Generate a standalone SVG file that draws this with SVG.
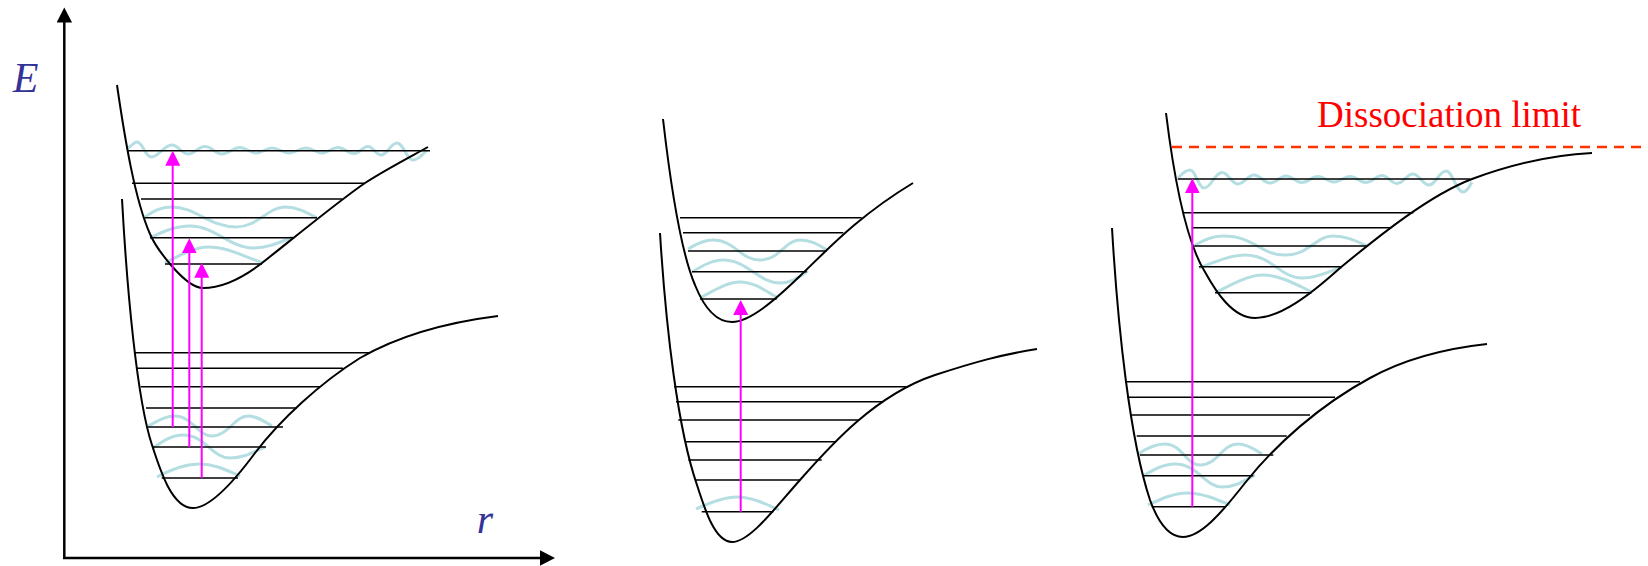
<svg xmlns="http://www.w3.org/2000/svg" width="1648" height="566" viewBox="0 0 1648 566">
<style>
.curve{fill:none;stroke:#000;stroke-width:2;stroke-linejoin:round}
.lvl{stroke:#000;stroke-width:1.5}
.wave{fill:none;stroke:#B4DEE2;stroke-width:3}
.tr{stroke:#FF00FF;stroke-width:2;marker-end:url(#ah)}
.axis{stroke:#000;stroke-width:2.5;marker-end:url(#axh)}
.lbl{font-family:"Liberation Serif","Times New Roman",serif;font-style:italic;font-size:42px;fill:#333399}
.dis{font-family:"Liberation Serif","Times New Roman",serif;font-size:37px;fill:#FF0000}
</style>
<defs>
<marker id="ah" markerUnits="userSpaceOnUse" markerWidth="15" markerHeight="15" viewBox="0 0 15 15" refX="1" refY="7.5" orient="auto"><path d="M0,0 L15,7.5 L0,15 z" fill="#FF00FF"/></marker>
<marker id="axh" markerUnits="userSpaceOnUse" markerWidth="16" markerHeight="16" viewBox="0 0 16 16" refX="1" refY="7.75" orient="auto"><path d="M0,0 L15,7.75 L0,15.5 z" fill="#000"/></marker>
</defs>
<rect width="1648" height="566" fill="#fff"/>

<g id="axes">
<line class="axis" x1="64.3" y1="558" x2="64.3" y2="21.5"/>
<line class="axis" x1="63" y1="558" x2="541" y2="558"/>
<text class="lbl" x="12.7" y="92">E</text>
<text class="lbl" x="476.7" y="532.7">r</text>
</g>

<g id="panel1">
<g id="p1-waves">
<path class="wave" d="M128,148 C131.6,146 134,142 137,142 C142.6,142 145.4,157 151,157 C159.4,157 163.6,145 172,145 C178.4,145 181.6,154 188,154 C194.8,154 198.2,146.5 205,146.5 C211.8,146.5 215.2,154 222,154 C229.2,154 232.8,147.5 240,147.5 C246.4,147.5 249.6,153 256,153 C262.4,153 265.6,148 272,148 C278.8,148 282.2,153 289,153 C295.8,153 299.2,148 306,148 C312.4,148 315.6,153 322,153 C328.4,153 331.6,147.5 338,147.5 C344.4,147.5 347.6,153.5 354,153.5 C359.6,153.5 362.4,146.5 368,146.5 C373.2,146.5 375.8,155 381,155 C387.4,155 390.6,143 397,143 C403.4,143 406.6,160 413,160 C418.6,160 423,154 427,150"/>
<path class="wave" d="M145,217 C155,210 162,207 172,207 C195,207 210,227 236,227 C258,227 268,207 285,207 C298,207 308,213 317,218"/>
<path class="wave" d="M150,238 C162,232 175,226 190,226 C215,226 230,248 253,248 C270,248 282,241 293,237"/>
<path class="wave" d="M165,263 C180,255 195,247 208,247 C228,247 245,257 263,263"/>
<path class="wave" d="M148,426 C158,421 165,416 175,416 C192,416 198,436 212,436 C228,436 235,416 248,416 C258,416 265,422 272,426"/>
<path class="wave" d="M153,448 C163,441 172,435 183,435 C205,435 212,458 230,458 C245,458 255,451 265,447"/>
<path class="wave" d="M157,477 C170,470 185,464 200,464 C215,464 228,471 240,476"/>
</g>
<g id="p1-levels">
<line class="lvl" x1="128" y1="150.7" x2="430" y2="150.7"/>
<line class="lvl" x1="132" y1="183.3" x2="365" y2="183.3"/>
<line class="lvl" x1="141" y1="199" x2="342" y2="199"/>
<line class="lvl" x1="145" y1="217.7" x2="317" y2="217.7"/>
<line class="lvl" x1="150" y1="237.7" x2="293" y2="237.7"/>
<line class="lvl" x1="165" y1="264" x2="262" y2="264"/>
<line class="lvl" x1="135" y1="352.7" x2="370" y2="352.7"/>
<line class="lvl" x1="137" y1="368.3" x2="343" y2="368.3"/>
<line class="lvl" x1="140.7" y1="386.7" x2="320" y2="386.7"/>
<line class="lvl" x1="146" y1="408" x2="297" y2="408"/>
<line class="lvl" x1="148" y1="427" x2="283" y2="427"/>
<line class="lvl" x1="152.7" y1="447" x2="266" y2="447"/>
<line class="lvl" x1="161.7" y1="478" x2="238" y2="478"/>
</g>
<path class="curve" d="M117,85 C125,140 135,200 150,234 C156,248 185,288 203,288 C225,288 245,276 262,263 C290,241 340,200 365,183 C385,170 410,157 428,147"/>
<path class="curve" d="M122,199 C127,290 137,400 152,445 C160,470 172,508 193,508 C210,508 235,480 255,453 C280,420 320,383 360,358 C400,335 450,322 498,316"/>
</g>

<g id="panel2">
<g id="p2-waves">
<path class="wave" d="M688,249 C696,244 704,240 713,240 C735,240 740,260 760,260 C780,260 785,240 800,240 C812,240 820,246 827,250"/>
<path class="wave" d="M692,272 C702,266 712,260 723,260 C748,260 758,283 780,283 C792,283 800,276 808,271"/>
<path class="wave" d="M700,298 C713,291 727,282 740,282 C755,282 767,292 778,298"/>
<path class="wave" d="M696,509 C709,503 723,497 737,497 C752,497 766,504 779,510"/>
</g>
<g id="p2-levels">
<line class="lvl" x1="680" y1="217.7" x2="861.7" y2="217.7"/>
<line class="lvl" x1="683" y1="232.7" x2="843.3" y2="232.7"/>
<line class="lvl" x1="688" y1="251" x2="826.7" y2="251"/>
<line class="lvl" x1="692" y1="271.7" x2="806.7" y2="271.7"/>
<line class="lvl" x1="700" y1="299" x2="776.7" y2="299"/>
<line class="lvl" x1="674" y1="386.7" x2="908.3" y2="386.7"/>
<line class="lvl" x1="676" y1="401.7" x2="883.3" y2="401.7"/>
<line class="lvl" x1="678.3" y1="420" x2="858.3" y2="420"/>
<line class="lvl" x1="685" y1="441.7" x2="835" y2="441.7"/>
<line class="lvl" x1="688.3" y1="460" x2="821.7" y2="460"/>
<line class="lvl" x1="695" y1="480" x2="800" y2="480"/>
<line class="lvl" x1="701.7" y1="511.7" x2="773.3" y2="511.7"/>
</g>
<path class="curve" d="M663,119 C670,180 680,250 695,285 C703,305 715,322 732,322 C750,322 775,300 800,276 C830,247 860,215 913,183"/>
<path class="curve" d="M660,233 C666,330 678,430 697,485 C705,510 715,542 732,542 C750,542 775,508 800,480 C830,446 875,395 935,375 C975,362 1000,355 1037,349"/>
</g>

<g id="panel3">
<g id="p3-waves">
<path class="wave" d="M1178,178 C1182,174 1185,170 1190,170 C1195.6,170 1198.4,188 1204,188 C1211.2,188 1214.8,172.5 1222,172.5 C1228.4,172.5 1231.6,184 1238,184 C1244.4,184 1247.6,175 1254,175 C1260.4,175 1263.6,183 1270,183 C1276.4,183 1279.6,176 1286,176 C1292.4,176 1295.6,182.5 1302,182.5 C1308.4,182.5 1311.6,176.5 1318,176.5 C1324.4,176.5 1327.6,182 1334,182 C1340.4,182 1343.6,176.5 1350,176.5 C1356.4,176.5 1359.6,182.5 1366,182.5 C1372.4,182.5 1375.6,175.5 1382,175.5 C1388,175.5 1391,183.5 1397,183.5 C1403.4,183.5 1406.6,174 1413,174 C1419.4,174 1422.6,185 1429,185 C1435.8,185 1439.2,171 1446,171 C1452.8,171 1456.2,192 1463,192 C1467,192 1470,186 1472,182"/>
<path class="wave" d="M1194,246 C1203,240 1212,236 1223,236 C1255,236 1260,255 1285,255 C1310,255 1315,236 1333,236 C1348,236 1358,242 1367,246"/>
<path class="wave" d="M1199,268 C1215,262 1230,255 1245,255 C1272,255 1280,278 1302,278 C1318,278 1330,271 1342,267"/>
<path class="wave" d="M1215,293 C1230,285 1248,275 1263,275 C1280,275 1297,285 1312,292"/>
<path class="wave" d="M1138,454 C1147,448 1155,444 1165,444 C1182,444 1186,465 1200,465 C1218,465 1222,444 1238,444 C1248,444 1255,450 1262,454"/>
<path class="wave" d="M1143,476 C1153,470 1163,464 1175,464 C1198,464 1205,487 1222,487 C1237,487 1247,479 1255,475"/>
<path class="wave" d="M1148,505 C1161,499 1174,493 1187,493 C1202,493 1216,499 1230,505"/>
</g>
<g id="p3-levels">
<line class="lvl" x1="1177.7" y1="179" x2="1470" y2="179"/>
<line class="lvl" x1="1182.7" y1="212.7" x2="1413.3" y2="212.7"/>
<line class="lvl" x1="1191.7" y1="227.7" x2="1390" y2="227.7"/>
<line class="lvl" x1="1194.3" y1="246" x2="1366.7" y2="246"/>
<line class="lvl" x1="1199" y1="266.7" x2="1341.7" y2="266.7"/>
<line class="lvl" x1="1215" y1="292.7" x2="1311.7" y2="292.7"/>
<line class="lvl" x1="1125" y1="381.7" x2="1360" y2="381.7"/>
<line class="lvl" x1="1127.3" y1="397.3" x2="1335" y2="397.3"/>
<line class="lvl" x1="1130" y1="415" x2="1310" y2="415"/>
<line class="lvl" x1="1136.7" y1="436" x2="1286.7" y2="436"/>
<line class="lvl" x1="1140" y1="455" x2="1273.3" y2="455"/>
<line class="lvl" x1="1143.3" y1="475.7" x2="1253.3" y2="475.7"/>
<line class="lvl" x1="1151.7" y1="506.7" x2="1225" y2="506.7"/>
</g>
<path class="curve" d="M1166,113 C1173,170 1185,240 1205,272 C1215,290 1232,318 1255,318 C1280,318 1310,295 1340,268 C1380,235 1430,195 1472,179 C1510,165 1550,155 1592,153"/>
<path class="curve" d="M1112,228 C1118,330 1130,440 1150,500 C1158,522 1168,537 1183,537 C1200,537 1220,515 1245,483 C1275,445 1320,405 1370,378 C1410,356 1450,348 1487,344"/>
<line id="dissociation-line" x1="1172" y1="147" x2="1648" y2="147" stroke="#FF3300" stroke-width="2.5" stroke-dasharray="10 7"/>
<text class="dis" x="1317" y="127">Dissociation limit</text>
</g>

<g id="transitions">
<line class="tr" x1="172.7" y1="427" x2="172.7" y2="164.7"/>
<line class="tr" x1="189.3" y1="447" x2="189.3" y2="252.3"/>
<line class="tr" x1="201.7" y1="478" x2="201.7" y2="276.7"/>
<line class="tr" x1="740.7" y1="511.7" x2="740.7" y2="314"/>
<line class="tr" x1="1192.3" y1="506.7" x2="1192.3" y2="192.3"/>
</g>
</svg>
